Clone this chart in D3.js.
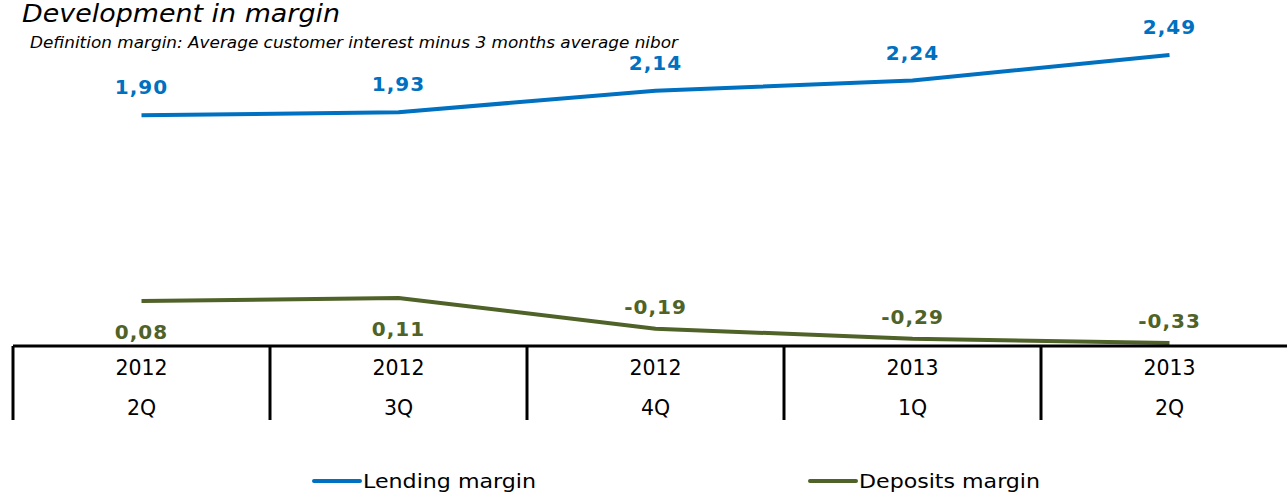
<!DOCTYPE html>
<html><head><meta charset="utf-8">
<script src="https://cdn.jsdelivr.net/npm/d3@7/dist/d3.min.js"></script>
<style>body{margin:0;background:#fff}svg{display:block}</style>
</head><body><svg id="c" width="1287" height="494"></svg>
<script>
const years = ["2012","2012","2012","2013","2013"];
const quarters = ["2Q","3Q","4Q","1Q","2Q"];
const lending = [1.90,1.93,2.14,2.24,2.49];
const deposits = [0.08,0.11,-0.19,-0.29,-0.33];
const seriesNames = ["Lending margin","Deposits margin"];
const colors = ["#0070C0","#4F6228"];

const svg = d3.select("#c");
const W = 1287;
const idx = d3.range(years.length);
const x = d3.scaleBand().domain(idx).range([13, 13 + 257*5]).padding(0);
const y = d3.scaleLinear().domain([-0.36, 2.49]).range([346, 55]);
const fmt = v => d3.format(".2f")(v).replace(".", ",").replace("−","-");

// title
svg.append("text").attr("x",22).attr("y",22).attr("font-family","DejaVu Sans").attr("font-style","italic")
  .attr("font-size",24).attr("fill","#000").attr("textLength",318).attr("lengthAdjust","spacingAndGlyphs")
  .text("Development in margin");
svg.append("text").attr("x",30).attr("y",48).attr("font-family","DejaVu Sans Condensed, DejaVu Sans").attr("font-style","italic")
  .attr("font-size",15).attr("fill","#000").attr("textLength",648).attr("lengthAdjust","spacingAndGlyphs")
  .text("Definition margin: Average customer interest minus 3 months average nibor");

// lines
const line = d3.line().x((d,i)=>x(i)+x.bandwidth()/2).y(d=>y(d));
[lending, deposits].forEach((s,k)=>{
  svg.append("path").attr("d",line(s)).attr("fill","none").attr("stroke",colors[k])
    .attr("stroke-width",4).attr("stroke-linejoin","round");
});

// category axis
const axisG = svg.append("g");
axisG.append("line").attr("x1",13).attr("x2",W).attr("y1",346).attr("y2",346).attr("stroke","#000").attr("stroke-width",3);
idx.forEach(i=>{
  axisG.append("line").attr("x1",x(i)).attr("x2",x(i)).attr("y1",346).attr("y2",420).attr("stroke","#000").attr("stroke-width",3);
  const cx = x(i)+x.bandwidth()/2;
  axisG.append("text").attr("x",cx).attr("y",368).attr("dy","0.35em").attr("text-anchor","middle")
    .attr("font-family","DejaVu Sans").attr("font-size",20.5).attr("fill","#000").text(years[i]);
  axisG.append("text").attr("x",cx).attr("y",408).attr("dy","0.35em").attr("text-anchor","middle")
    .attr("font-family","DejaVu Sans").attr("font-size",20.5).attr("fill","#000").text(quarters[i]);
});

// data labels
lending.forEach((v,i)=>{
  svg.append("text").attr("x",x(i)+x.bandwidth()/2).attr("y",y(v)-28).attr("dy","0.35em").attr("text-anchor","middle")
    .attr("font-family","DejaVu Sans").attr("font-weight","bold").attr("font-size",20).attr("letter-spacing",1)
    .attr("fill",colors[0]).text(fmt(v));
});
deposits.forEach((v,i)=>{
  const off = v >= 0 ? 31 : -22;
  svg.append("text").attr("x",x(i)+x.bandwidth()/2).attr("y",y(v)+off).attr("dy","0.35em").attr("text-anchor","middle")
    .attr("font-family","DejaVu Sans").attr("font-weight","bold").attr("font-size",20).attr("letter-spacing",1)
    .attr("fill",colors[1]).text(fmt(v));
});

// legend
const legX = [314, 810];
const legLen = [173, 181];
seriesNames.forEach((n,k)=>{
  svg.append("line").attr("x1",legX[k]).attr("x2",legX[k]+46).attr("y1",481).attr("y2",481)
    .attr("stroke",colors[k]).attr("stroke-width",4).attr("stroke-linecap","round");
  svg.append("text").attr("x",legX[k]+49).attr("y",481).attr("dy","0.35em")
    .attr("font-family","DejaVu Sans Condensed, DejaVu Sans").attr("font-size",20)
    .attr("textLength",legLen[k]).attr("lengthAdjust","spacingAndGlyphs").attr("fill","#000").text(n);
});
</script></body></html>
